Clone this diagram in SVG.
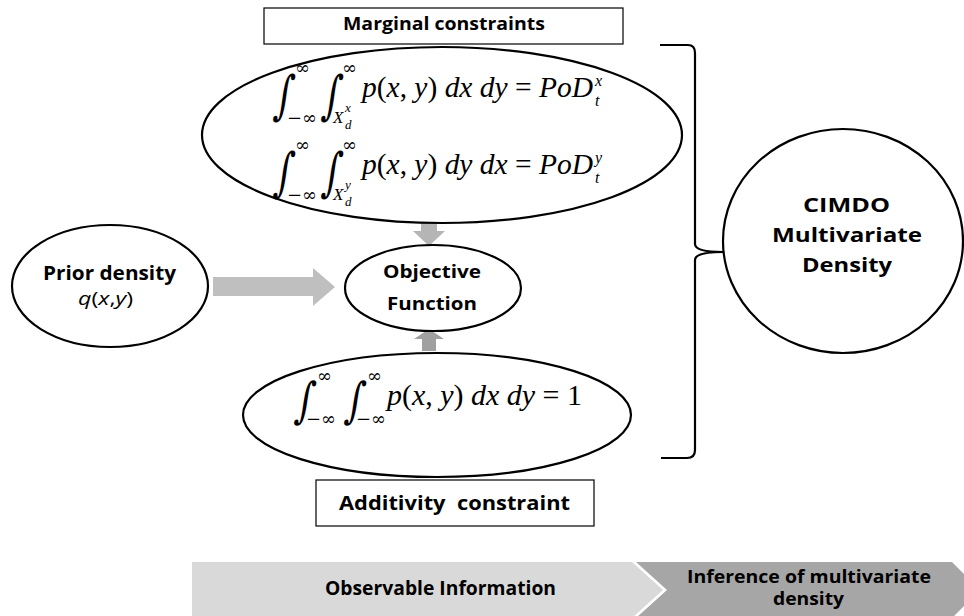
<svg xmlns="http://www.w3.org/2000/svg" width="964" height="616" viewBox="0 0 964 616">
<style>
.node{fill:#fff;stroke:#000;stroke-width:2.2}
.box{fill:#fff;stroke:#000;stroke-width:1.2}
.lbl{font-family:"Open Sans","Liberation Sans",sans-serif;font-weight:bold;fill:#000}
.reg{font-family:"Open Sans","Liberation Sans",sans-serif;fill:#000}
.m{font-family:"Liberation Serif","DejaVu Serif",serif;font-size:30px;fill:#000}
.i{font-style:italic}
.inf{font-family:"DejaVu Serif","Liberation Serif",serif;font-size:18px;fill:#000}
.sm{font-family:"Liberation Serif","DejaVu Serif",serif;font-style:italic;fill:#000}
.int{font-family:"DejaVu Serif","Liberation Serif",serif;font-size:36px;fill:#000}
</style>
<rect width="964" height="616" fill="#fff"/>

<g id="connectors">
  <polygon points="213,277 313,277 313,268 335,287 313,306 313,296 213,296" fill="#bfbfbf"/>
  <polygon points="421,220 437,220 437,231 445,231 429,246 413,231 421,231" fill="#b5b5b5"/>
  <polygon points="422,351 436,351 436,339 444,339 429,329 414,339 422,339" fill="#a0a0a0"/>
  <path d="M660,45 L688,45 Q695,45 695,53 L695,244 Q695,252 723,252 Q695,252 695,260 L695,450 Q695,458 687,458 L661,458" fill="none" stroke="#000" stroke-width="2.2"/>
</g>

<g id="marginal-label">
  <rect class="box" x="264" y="8" width="359" height="36"/>
  <text class="lbl" x="343" y="30" font-size="17" textLength="202" lengthAdjust="spacingAndGlyphs">Marginal constraints</text>
</g>

<g id="marginal-constraints">
  <ellipse class="node" cx="442" cy="135" rx="240" ry="88"/>
  <text class="int" transform="translate(273,113) scale(1,1.45) skewX(-10)">∫</text>
  <text class="inf" x="295" y="74">∞</text>
  <text class="inf" x="287" y="124">−∞</text>
  <text class="int" transform="translate(321,113) scale(1,1.45) skewX(-10)">∫</text>
  <text class="inf" x="342" y="74">∞</text>
  <text class="sm" x="333" y="123" font-size="17">X</text>
  <text class="sm" x="345" y="112" font-size="13">x</text>
  <text class="sm" x="345" y="129" font-size="13">d</text>
  <text class="m" x="362" y="97" textLength="231" lengthAdjust="spacingAndGlyphs"><tspan class="i">p</tspan>(<tspan class="i">x</tspan>, <tspan class="i">y</tspan>) <tspan class="i">dx dy</tspan> = <tspan class="i">PoD</tspan></text>
  <text class="sm" x="595" y="86" font-size="16">x</text>
  <text class="sm" x="595" y="106" font-size="16">t</text>

  <text class="int" transform="translate(273,190) scale(1,1.45) skewX(-10)">∫</text>
  <text class="inf" x="295" y="151">∞</text>
  <text class="inf" x="287" y="201">−∞</text>
  <text class="int" transform="translate(321,190) scale(1,1.45) skewX(-10)">∫</text>
  <text class="inf" x="342" y="151">∞</text>
  <text class="sm" x="333" y="200" font-size="17">X</text>
  <text class="sm" x="345" y="189" font-size="13">y</text>
  <text class="sm" x="345" y="206" font-size="13">d</text>
  <text class="m" x="362" y="174" textLength="231" lengthAdjust="spacingAndGlyphs"><tspan class="i">p</tspan>(<tspan class="i">x</tspan>, <tspan class="i">y</tspan>) <tspan class="i">dy dx</tspan> = <tspan class="i">PoD</tspan></text>
  <text class="sm" x="595" y="163" font-size="16">y</text>
  <text class="sm" x="595" y="183" font-size="16">t</text>
</g>

<g id="prior-density">
  <ellipse class="node" cx="110" cy="286" rx="98" ry="61"/>
  <text class="lbl" x="43" y="280" font-size="19" textLength="133" lengthAdjust="spacingAndGlyphs">Prior density</text>
  <text class="reg" x="78" y="305" font-size="19" textLength="55" lengthAdjust="spacingAndGlyphs"><tspan font-style="italic">q</tspan>(<tspan font-style="italic">x</tspan>,<tspan font-style="italic">y</tspan>)</text>
</g>

<g id="objective-function">
  <ellipse class="node" cx="433" cy="288" rx="88" ry="43"/>
  <text class="lbl" x="383" y="278" font-size="18" textLength="98" lengthAdjust="spacingAndGlyphs">Objective</text>
  <text class="lbl" x="387" y="310" font-size="18" textLength="90" lengthAdjust="spacingAndGlyphs">Function</text>
</g>

<g id="additivity-constraint">
  <ellipse class="node" cx="437" cy="415" rx="194" ry="62"/>
  <text class="int" transform="translate(294,417) scale(1,1.35) skewX(-10)">∫</text>
  <text class="inf" x="317" y="382">∞</text>
  <text class="inf" x="306" y="425">−∞</text>
  <text class="int" transform="translate(344,417) scale(1,1.35) skewX(-10)">∫</text>
  <text class="inf" x="367" y="382">∞</text>
  <text class="inf" x="356" y="425">−∞</text>
  <text class="m" x="387" y="405" textLength="195" lengthAdjust="spacingAndGlyphs"><tspan class="i">p</tspan>(<tspan class="i">x</tspan>, <tspan class="i">y</tspan>) <tspan class="i">dx dy</tspan> = 1</text>
</g>

<g id="additivity-label">
  <rect class="box" x="316" y="480" width="278" height="46"/>
  <text class="lbl" x="339" y="510" font-size="20" textLength="231" lengthAdjust="spacingAndGlyphs" xml:space="preserve">Additivity  constraint</text>
</g>

<g id="cimdo">
  <ellipse class="node" cx="843" cy="241" rx="120" ry="112"/>
  <text class="lbl" x="803" y="212" font-size="19" textLength="87" lengthAdjust="spacingAndGlyphs">CIMDO</text>
  <text class="lbl" x="772" y="242" font-size="19" textLength="150" lengthAdjust="spacingAndGlyphs">Multivariate</text>
  <text class="lbl" x="802" y="272" font-size="19" textLength="90" lengthAdjust="spacingAndGlyphs">Density</text>
</g>

<g id="stage-observable">
  <polygon points="192,562 632,562 663,590 632,618 192,618" fill="#d9d9d9"/>
  <text class="lbl" x="325" y="595" font-size="19" textLength="231" lengthAdjust="spacingAndGlyphs">Observable Information</text>
</g>

<g id="stage-inference">
  <polygon points="636,562 952,562 980,590 952,618 636,618 667,590" fill="#a6a6a6"/>
  <text class="lbl" x="687" y="583" font-size="18" textLength="244" lengthAdjust="spacingAndGlyphs">Inference of multivariate</text>
  <text class="lbl" x="773" y="605" font-size="18" textLength="71" lengthAdjust="spacingAndGlyphs">density</text>
</g>
</svg>
